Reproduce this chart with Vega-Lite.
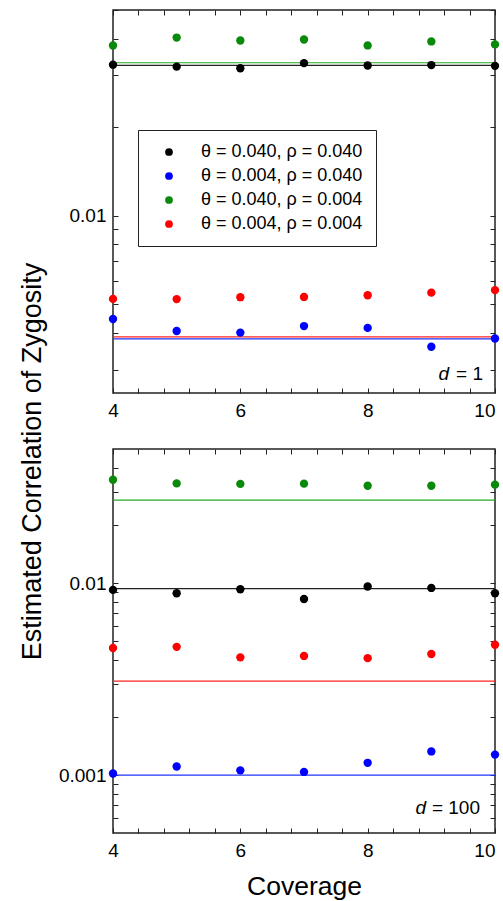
{
  "$schema": "https://vega.github.io/schema/vega-lite/v6.json",
  "padding": {"left": 17, "top": 0, "right": 9, "bottom": 0},
  "bounds": "flush",
  "spacing": 56,
  "resolve": {"legend": {"color": "independent"}, "scale": {"color": "independent", "stroke": "independent"}},
  "config": {
    "font": "Liberation Sans",
    "view": {"stroke": "#222", "strokeWidth": 1.5},
    "axis": {"grid": false, "domain": false, "labelFont": "Liberation Sans", "titleFont": "Liberation Sans", "labelColor": "black", "titleColor": "black", "tickColor": "#222", "titleFontWeight": "normal", "labelFontSize": 19, "tickSize": -5},
    "legend": {"labelFontSize": 18, "labelFont": "Liberation Sans"}
  },
  "datasets": {
    "top": [
      {"coverage": 4, "value": 0.0326, "series": "θ = 0.040, ρ = 0.040"},
      {"coverage": 5, "value": 0.0321, "series": "θ = 0.040, ρ = 0.040"},
      {"coverage": 6, "value": 0.0317, "series": "θ = 0.040, ρ = 0.040"},
      {"coverage": 7, "value": 0.0330, "series": "θ = 0.040, ρ = 0.040"},
      {"coverage": 8, "value": 0.0324, "series": "θ = 0.040, ρ = 0.040"},
      {"coverage": 9, "value": 0.0325, "series": "θ = 0.040, ρ = 0.040"},
      {"coverage": 10, "value": 0.0323, "series": "θ = 0.040, ρ = 0.040"},
      {"coverage": 4, "value": 0.00446, "series": "θ = 0.004, ρ = 0.040"},
      {"coverage": 5, "value": 0.00406, "series": "θ = 0.004, ρ = 0.040"},
      {"coverage": 6, "value": 0.00401, "series": "θ = 0.004, ρ = 0.040"},
      {"coverage": 7, "value": 0.00422, "series": "θ = 0.004, ρ = 0.040"},
      {"coverage": 8, "value": 0.00416, "series": "θ = 0.004, ρ = 0.040"},
      {"coverage": 9, "value": 0.00359, "series": "θ = 0.004, ρ = 0.040"},
      {"coverage": 10, "value": 0.00383, "series": "θ = 0.004, ρ = 0.040"},
      {"coverage": 4, "value": 0.0379, "series": "θ = 0.040, ρ = 0.004"},
      {"coverage": 5, "value": 0.0403, "series": "θ = 0.040, ρ = 0.004"},
      {"coverage": 6, "value": 0.0394, "series": "θ = 0.040, ρ = 0.004"},
      {"coverage": 7, "value": 0.0397, "series": "θ = 0.040, ρ = 0.004"},
      {"coverage": 8, "value": 0.0379, "series": "θ = 0.040, ρ = 0.004"},
      {"coverage": 9, "value": 0.0391, "series": "θ = 0.040, ρ = 0.004"},
      {"coverage": 10, "value": 0.0382, "series": "θ = 0.040, ρ = 0.004"},
      {"coverage": 4, "value": 0.00522, "series": "θ = 0.004, ρ = 0.004"},
      {"coverage": 5, "value": 0.00521, "series": "θ = 0.004, ρ = 0.004"},
      {"coverage": 6, "value": 0.00529, "series": "θ = 0.004, ρ = 0.004"},
      {"coverage": 7, "value": 0.00530, "series": "θ = 0.004, ρ = 0.004"},
      {"coverage": 8, "value": 0.00537, "series": "θ = 0.004, ρ = 0.004"},
      {"coverage": 9, "value": 0.00548, "series": "θ = 0.004, ρ = 0.004"},
      {"coverage": 10, "value": 0.00559, "series": "θ = 0.004, ρ = 0.004"}
    ],
    "topLines": [
      {"value": 0.0324, "line": "L1"},
      {"value": 0.00382, "line": "L2"},
      {"value": 0.0331, "line": "L3"},
      {"value": 0.00388, "line": "L4"}
    ],
    "bottom": [
      {"coverage": 4, "value": 0.00923, "series": "θ = 0.040, ρ = 0.040"},
      {"coverage": 5, "value": 0.00887, "series": "θ = 0.040, ρ = 0.040"},
      {"coverage": 6, "value": 0.00930, "series": "θ = 0.040, ρ = 0.040"},
      {"coverage": 7, "value": 0.00827, "series": "θ = 0.040, ρ = 0.040"},
      {"coverage": 8, "value": 0.00961, "series": "θ = 0.040, ρ = 0.040"},
      {"coverage": 9, "value": 0.00945, "series": "θ = 0.040, ρ = 0.040"},
      {"coverage": 10, "value": 0.00887, "series": "θ = 0.040, ρ = 0.040"},
      {"coverage": 4, "value": 0.00102, "series": "θ = 0.004, ρ = 0.040"},
      {"coverage": 5, "value": 0.00111, "series": "θ = 0.004, ρ = 0.040"},
      {"coverage": 6, "value": 0.00106, "series": "θ = 0.004, ρ = 0.040"},
      {"coverage": 7, "value": 0.00104, "series": "θ = 0.004, ρ = 0.040"},
      {"coverage": 8, "value": 0.00116, "series": "θ = 0.004, ρ = 0.040"},
      {"coverage": 9, "value": 0.00133, "series": "θ = 0.004, ρ = 0.040"},
      {"coverage": 10, "value": 0.00128, "series": "θ = 0.004, ρ = 0.040"},
      {"coverage": 4, "value": 0.0346, "series": "θ = 0.040, ρ = 0.004"},
      {"coverage": 5, "value": 0.0331, "series": "θ = 0.040, ρ = 0.004"},
      {"coverage": 6, "value": 0.0329, "series": "θ = 0.040, ρ = 0.004"},
      {"coverage": 7, "value": 0.0330, "series": "θ = 0.040, ρ = 0.004"},
      {"coverage": 8, "value": 0.0322, "series": "θ = 0.040, ρ = 0.004"},
      {"coverage": 9, "value": 0.0322, "series": "θ = 0.040, ρ = 0.004"},
      {"coverage": 10, "value": 0.0326, "series": "θ = 0.040, ρ = 0.004"},
      {"coverage": 4, "value": 0.00460, "series": "θ = 0.004, ρ = 0.004"},
      {"coverage": 5, "value": 0.00466, "series": "θ = 0.004, ρ = 0.004"},
      {"coverage": 6, "value": 0.00411, "series": "θ = 0.004, ρ = 0.004"},
      {"coverage": 7, "value": 0.00418, "series": "θ = 0.004, ρ = 0.004"},
      {"coverage": 8, "value": 0.00407, "series": "θ = 0.004, ρ = 0.004"},
      {"coverage": 9, "value": 0.00428, "series": "θ = 0.004, ρ = 0.004"},
      {"coverage": 10, "value": 0.00478, "series": "θ = 0.004, ρ = 0.004"}
    ],
    "bottomLines": [
      {"value": 0.00938, "line": "L1"},
      {"value": 0.00100, "line": "L2"},
      {"value": 0.0271, "line": "L3"},
      {"value": 0.00309, "line": "L4"}
    ],
    "topText": [{"coverage": 10, "value": 0.00291, "d": "d", "rest": "= 1"}],
    "bottomText": [{"coverage": 10, "value": 0.000672, "d": "d", "rest": "= 100"}]
  },
  "vconcat": [
    {
      "width": 382,
      "height": 383,
      "resolve": {"axis": {"x": "independent", "y": "independent"}},
      "layer": [
        {
          "data": {"name": "topLines"},
          "mark": {"type": "rule", "strokeWidth": 1.2},
          "encoding": {
            "y": {"field": "value", "type": "quantitative", "scale": {"type": "log", "domain": [0.0025, 0.05], "nice": false}, "axis": null},
            "stroke": {"field": "line", "type": "nominal", "scale": {"domain": ["L1", "L2", "L3", "L4"], "range": ["#222222", "#2233ff", "#22aa22", "#ff2222"]}, "legend": null}
          }
        },
        {
          "data": {"name": "top"},
          "mark": {"type": "circle", "size": 70, "opacity": 1},
          "encoding": {
            "x": {"field": "coverage", "type": "quantitative", "scale": {"domain": [4, 10], "nice": false, "zero": false},
              "axis": {"orient": "bottom", "values": [4, 4.4, 4.8, 5.2, 5.6, 6, 6.4, 6.8, 7.2, 7.6, 8, 8.4, 8.8, 9.2, 9.6, 10], "labelExpr": "datum.value % 2 == 0 ? format(datum.value, 'd') : ''", "labelAlign": {"condition": {"test": "datum.value == 10", "value": "right"}, "value": "center"}, "labelPadding": 13, "labelFontSize": 19, "labelFlush": false, "labelOverlap": false, "title": null}},
            "y": {"field": "value", "type": "quantitative", "scale": {"type": "log", "domain": [0.0025, 0.05], "nice": false},
              "axis": {"orient": "left", "values": [0.003, 0.004, 0.005, 0.006, 0.007, 0.008, 0.009, 0.01, 0.02, 0.03, 0.04, 0.05], "labelExpr": "datum.value == 0.01 ? '0.01' : ''", "labelPadding": 12, "labelFontSize": 19, "labelOverlap": false, "title": null}},
            "color": {"field": "series", "type": "nominal", "scale": {"domain": ["θ = 0.040, ρ = 0.040", "θ = 0.004, ρ = 0.040", "θ = 0.040, ρ = 0.004", "θ = 0.004, ρ = 0.004"], "range": ["#000000", "#0000ff", "#0a8a0a", "#ff0000"]},
              "legend": {"orient": "none", "legendX": 25, "legendY": 120, "title": null, "fillColor": "white", "strokeColor": "#222", "padding": 13, "symbolOffset": 9, "labelOffset": 23, "rowPadding": 6, "labelFontSize": 18, "labelColor": "black", "symbolSize": 60, "symbolType": "circle", "symbolStrokeWidth": 0, "symbolOpacity": 1, "labelLimit": 0}}
          }
        },
        {
          "data": {"name": "top"},
          "mark": {"type": "circle", "opacity": 0},
          "encoding": {
            "x": {"field": "coverage", "type": "quantitative", "axis": {"orient": "top", "values": [4, 4.4, 4.8, 5.2, 5.6, 6, 6.4, 6.8, 7.2, 7.6, 8, 8.4, 8.8, 9.2, 9.6, 10], "labels": false, "title": null}},
            "y": {"field": "value", "type": "quantitative", "axis": {"orient": "right", "values": [0.003, 0.004, 0.005, 0.006, 0.007, 0.008, 0.009, 0.01, 0.02, 0.03, 0.04, 0.05], "labels": false, "title": null}}
          }
        },
        {
          "data": {"name": "topText"},
          "mark": {"type": "text", "align": "right", "baseline": "middle", "dx": -12, "fontSize": 19, "font": "Liberation Sans", "color": "black"},
          "encoding": {
            "x": {"field": "coverage", "type": "quantitative", "axis": null},
            "y": {"field": "value", "type": "quantitative", "axis": null},
            "text": {"field": "rest"}
          }
        },
        {
          "data": {"name": "topText"},
          "mark": {"type": "text", "align": "right", "baseline": "middle", "dx": -46, "fontSize": 19, "font": "Liberation Sans", "fontStyle": "italic", "color": "black"},
          "encoding": {
            "x": {"field": "coverage", "type": "quantitative", "axis": null},
            "y": {"field": "value", "type": "quantitative", "axis": null},
            "text": {"field": "d"}
          }
        }
      ]
    },
    {
      "width": 382,
      "height": 384,
      "resolve": {"axis": {"x": "independent", "y": "independent"}},
      "layer": [
        {
          "data": {"name": "bottomLines"},
          "mark": {"type": "rule", "strokeWidth": 1.2},
          "encoding": {
            "y": {"field": "value", "type": "quantitative", "scale": {"type": "log", "domain": [0.0005, 0.05], "nice": false}, "axis": null},
            "stroke": {"field": "line", "type": "nominal", "scale": {"domain": ["L1", "L2", "L3", "L4"], "range": ["#222222", "#2233ff", "#22aa22", "#ff2222"]}, "legend": null}
          }
        },
        {
          "data": {"name": "bottom"},
          "mark": {"type": "circle", "size": 70, "opacity": 1},
          "encoding": {
            "x": {"field": "coverage", "type": "quantitative", "scale": {"domain": [4, 10], "nice": false, "zero": false},
              "axis": {"orient": "bottom", "values": [4, 4.4, 4.8, 5.2, 5.6, 6, 6.4, 6.8, 7.2, 7.6, 8, 8.4, 8.8, 9.2, 9.6, 10], "labelExpr": "datum.value % 2 == 0 ? format(datum.value, 'd') : ''", "labelAlign": {"condition": {"test": "datum.value == 10", "value": "right"}, "value": "center"}, "labelPadding": 13, "labelFontSize": 19, "labelFlush": false, "labelOverlap": false, "title": "Coverage", "titleFontSize": 26.5, "titlePadding": 13}},
            "y": {"field": "value", "type": "quantitative", "scale": {"type": "log", "domain": [0.0005, 0.05], "nice": false},
              "axis": {"orient": "left", "values": [0.0006, 0.0007, 0.0008, 0.0009, 0.001, 0.002, 0.003, 0.004, 0.005, 0.006, 0.007, 0.008, 0.009, 0.01, 0.02, 0.03, 0.04], "labelExpr": "datum.value == 0.01 ? '0.01' : datum.value == 0.001 ? '0.001' : ''", "labelPadding": 12, "labelFontSize": 19, "labelOverlap": false, "title": "Estimated Correlation of Zygosity", "titleFontSize": 27, "titleX": -67, "titleY": 12, "titleBaseline": "bottom"}},
            "color": {"field": "series", "type": "nominal", "scale": {"domain": ["θ = 0.040, ρ = 0.040", "θ = 0.004, ρ = 0.040", "θ = 0.040, ρ = 0.004", "θ = 0.004, ρ = 0.004"], "range": ["#000000", "#0000ff", "#0a8a0a", "#ff0000"]}, "legend": null}
          }
        },
        {
          "data": {"name": "bottom"},
          "mark": {"type": "circle", "opacity": 0},
          "encoding": {
            "x": {"field": "coverage", "type": "quantitative", "axis": {"orient": "top", "values": [4, 4.4, 4.8, 5.2, 5.6, 6, 6.4, 6.8, 7.2, 7.6, 8, 8.4, 8.8, 9.2, 9.6, 10], "labels": false, "title": null}},
            "y": {"field": "value", "type": "quantitative", "axis": {"orient": "right", "values": [0.0006, 0.0007, 0.0008, 0.0009, 0.001, 0.002, 0.003, 0.004, 0.005, 0.006, 0.007, 0.008, 0.009, 0.01, 0.02, 0.03, 0.04], "labels": false, "title": null}}
          }
        },
        {
          "data": {"name": "bottomText"},
          "mark": {"type": "text", "align": "right", "baseline": "middle", "dx": -15, "fontSize": 19, "font": "Liberation Sans", "color": "black"},
          "encoding": {
            "x": {"field": "coverage", "type": "quantitative", "axis": null},
            "y": {"field": "value", "type": "quantitative", "axis": null},
            "text": {"field": "rest"}
          }
        },
        {
          "data": {"name": "bottomText"},
          "mark": {"type": "text", "align": "right", "baseline": "middle", "dx": -69, "fontSize": 19, "font": "Liberation Sans", "fontStyle": "italic", "color": "black"},
          "encoding": {
            "x": {"field": "coverage", "type": "quantitative", "axis": null},
            "y": {"field": "value", "type": "quantitative", "axis": null},
            "text": {"field": "d"}
          }
        }
      ]
    }
  ]
}
